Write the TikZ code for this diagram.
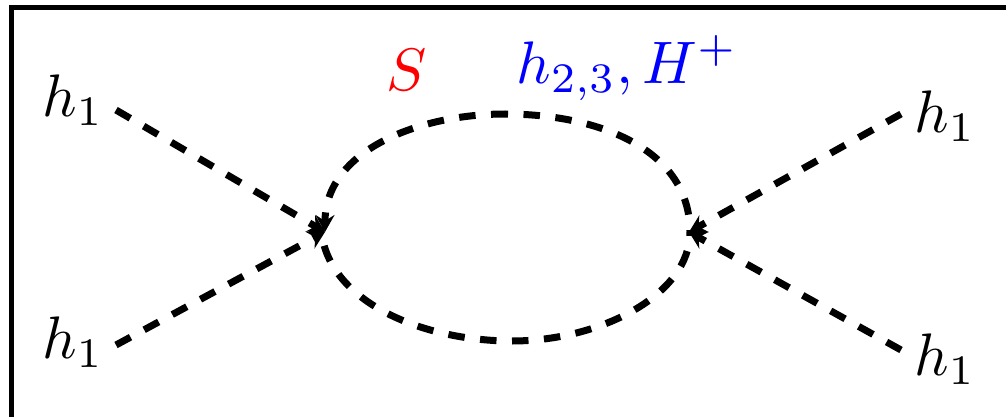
\documentclass[tikz,border=0pt]{standalone}
\usetikzlibrary{arrows.meta}
\tikzset{
  scalar/.style={line width=7pt,dash pattern=on 16.5pt off 15.5pt},
  tipped/.style={scalar,-{Stealth[length=17pt,width=19pt,inset=6pt]}},
  lab/.style={inner sep=0pt,scale=6}
}
\begin{document}
\begin{tikzpicture}[x=1pt,y=-1pt]
\useasboundingbox (0,0) rectangle (1006,417);
\draw[line width=5pt] (11,417) -- (11,7.5) -- (1006,7.5);
\coordinate (L) at (325,232);
\coordinate (R) at (689,232);
\coordinate (Lm) at (321,227);
\coordinate (Rm) at (690,232);
\coordinate (a) at (116,110);
\coordinate (b) at (116,345);
\coordinate (c) at (901,114);
\coordinate (d) at (901,350);
\coordinate (T) at (505,114);
\coordinate (B) at (512,341);
\draw[tipped] (a) -- (L);
\draw[tipped] (b) -- (L);
\draw[tipped] (c) -- (R);
\draw[tipped] (d) -- (R);
\draw[tipped,dash phase=2.5pt] (T) .. controls (420,114) and (325,150) .. (L);
\draw[scalar,dash phase=13.5pt] (T) .. controls (600,114) and (690,150) .. (Rm);
\draw[scalar,dash phase=16.5pt] (B) .. controls (420,341) and (325,300) .. (Lm);
\draw[scalar] (B) .. controls (600,341) and (690,295) .. (Rm);
\node[lab] (n1) at (73,100) {$h_1$};
\node[lab] (n2) at (73,342) {$h_1$};
\node[lab] (n3) at (945,116) {$h_1$};
\node[lab] (n4) at (945,359) {$h_1$};
\node[lab,text=red] (s) at (407,70) {$S$};
\node[lab,text=blue] (h) at (627,68) {$h_{2,3},H^+$};
\end{tikzpicture}
\end{document}
